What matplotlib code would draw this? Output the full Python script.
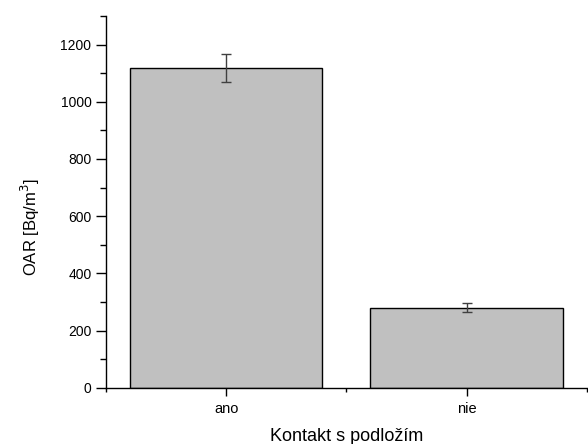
import numpy as np
import matplotlib.pyplot as plt
from matplotlib.ticker import MultipleLocator, FixedLocator

plt.rcParams['font.family'] = ['Liberation Sans', 'DejaVu Sans']

kategorie = ['ano', 'nie']
oar = [1118, 280]
chyba = [48, 15]

fig = plt.figure(figsize=(5.88, 4.44), dpi=100)
ax = fig.add_axes([0.1803, 0.1268, 0.8177, 0.8372])

x = np.arange(1, len(kategorie) + 1)
ax.bar(x, oar, width=0.8, color='#c0c0c0', edgecolor='black', linewidth=1.0)
ax.errorbar(x, oar, yerr=chyba, fmt='none', ecolor='#404040', elinewidth=1.0,
            capsize=3.5, capthick=1.0)

ax.set_xlim(0.5, 2.5)
ax.set_ylim(0, 1300)
ax.set_xticks(x)
ax.set_xticklabels(kategorie)
ax.xaxis.set_minor_locator(FixedLocator([0.5, 1.5, 2.5]))
ax.yaxis.set_major_locator(MultipleLocator(200))
ax.yaxis.set_minor_locator(MultipleLocator(100))

ax.spines['top'].set_visible(False)
ax.spines['right'].set_visible(False)
ax.spines['left'].set_linewidth(1.0)
ax.spines['bottom'].set_linewidth(1.0)

ax.tick_params(axis='both', which='major', direction='out', length=7, width=1.0,
               labelsize=10)
ax.tick_params(axis='both', which='minor', direction='out', length=4, width=1.0)
ax.tick_params(axis='x', which='major', length=6, pad=4, labelsize=10.5)
ax.tick_params(axis='x', which='minor', length=3)

ax.set_xlabel('Kontakt s podložím', fontsize=13, labelpad=9)
ax.set_ylabel('OAR [Bq/m$^3$]', fontsize=12)
ax.yaxis.set_label_coords(-0.133, 0.433)

fig.savefig('out.png', dpi=100)
